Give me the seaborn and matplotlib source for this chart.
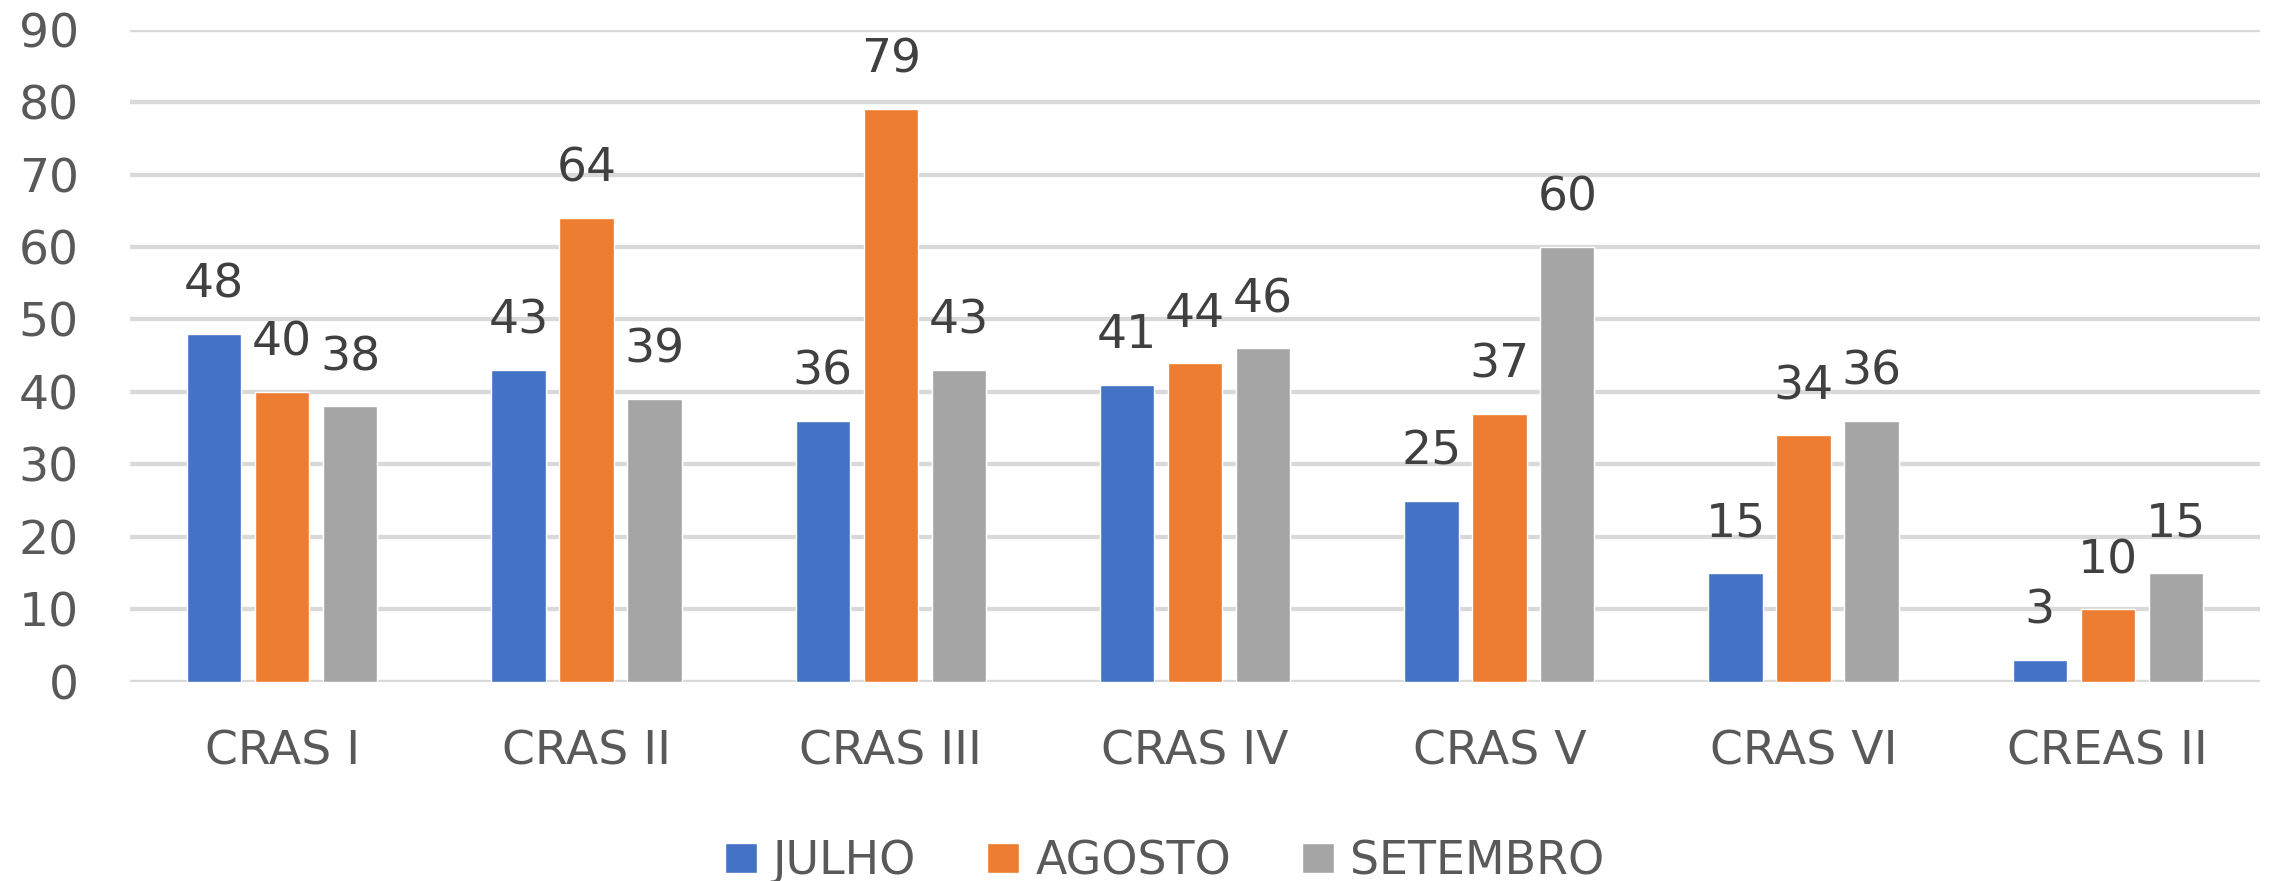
import matplotlib
matplotlib.use("Agg")
import matplotlib.pyplot as plt
import seaborn as sns
import pandas as pd

categories = ["CRAS I", "CRAS II", "CRAS III", "CRAS IV", "CRAS V", "CRAS VI", "CREAS II"]
series_names = ["JULHO", "AGOSTO", "SETEMBRO"]
julho = [48, 43, 36, 41, 25, 15, 3]
agosto = [40, 64, 79, 44, 37, 34, 10]
setembro = [38, 39, 43, 46, 60, 36, 15]
yticks = [0, 10, 20, 30, 40, 50, 60, 70, 80, 90]
colors = ["#4472C4", "#ED7D31", "#A5A5A5"]

rows = []
for name, vals in zip(series_names, [julho, agosto, setembro]):
    for c, v in zip(categories, vals):
        rows.append({"cat": c, "serie": name, "valor": v})
df = pd.DataFrame(rows)

sns.set_theme(style="white")
plt.rcParams['font.family'] = ['DejaVu Sans']

fig = plt.figure(figsize=(22.7, 8.81), dpi=100)
ax = fig.add_axes([0.0573, 0.2259, 0.9383, 0.7406])

sns.barplot(data=df, x="cat", y="valor", hue="serie", order=categories,
            hue_order=series_names, palette=colors, width=0.67, gap=0.2,
            saturation=1, ax=ax, legend=True)

fs = 34
ax.set_ylim(0, 90)
ax.set_yticks(yticks)
ax.set_xlim(-0.5, len(categories) - 0.5)
ax.yaxis.grid(True, color="#D9D9D9", linewidth=3.1)
ax.set_axisbelow(True)
for s in ax.spines.values():
    s.set_visible(False)
ax.set_xlabel("")
ax.set_ylabel("")
ax.tick_params(axis="y", length=0, pad=37, labelsize=fs, labelcolor="#595959")
ax.tick_params(axis="x", length=0, pad=34, labelsize=fs, labelcolor="#595959")

for cont in ax.containers:
    ax.bar_label(cont, padding=19, fontsize=fs, color="#404040")

handles, labels = ax.get_legend_handles_labels()
ax.get_legend().remove()
fig.legend(handles, labels, loc="center", bbox_to_anchor=(0.513, 0.022), ncol=3,
           frameon=False, fontsize=33, labelcolor="#595959",
           handlelength=0.7, handleheight=0.6, handletextpad=0.35,
           columnspacing=1.55, borderaxespad=0, borderpad=0)

fig.savefig("out.png", dpi=100, facecolor="white")
